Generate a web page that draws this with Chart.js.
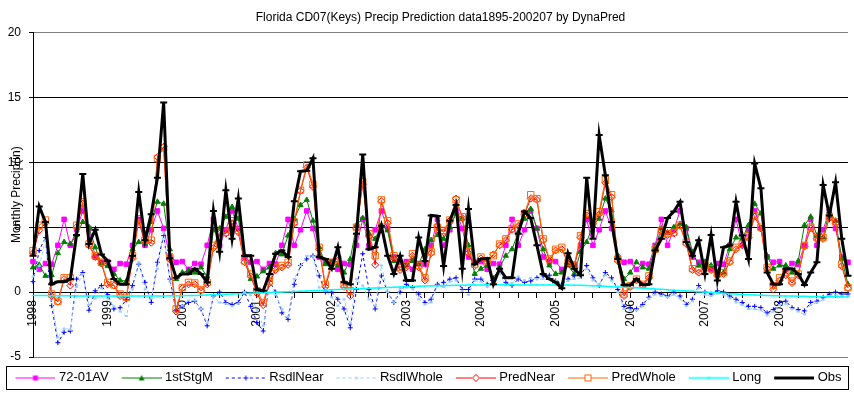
<!DOCTYPE html>
<html>
<head>
<meta charset="utf-8">
<title>Florida CD07(Keys) Precip Prediction</title>
<script src="https://cdn.jsdelivr.net/npm/chart.js@4.4.1/dist/chart.umd.min.js"></script>
<style>
  html, body { margin: 0; padding: 0; background: #ffffff; }
  #wrap { width: 854px; height: 394px; }
</style>
</head>
<body>
<div id="wrap"><canvas id="chart" width="854" height="394"></canvas></div>
<script>
// Ver.1 - Florida CD07 (Keys) monthly precip, 1998-01 .. 2008-12
const YEARS = ['1998', '1999', '2000', '2001', '2002', '2003', '2004', '2005', '2006', '2007', '2008'];
const SERIES_NAMES = ['72-01AV', '1stStgM', 'RsdlNear', 'RsdlWhole', 'PredNear', 'PredWhole', 'Long', 'Obs'];

// 72-01 average (one row per year)
const AV = [
  2.35, 1.75, 2.2, 2.15, 3.6, 5.6, 3.6, 4.8, 6.25, 4.9, 2.7, 2.3,
  2.35, 1.75, 2.2, 2.15, 3.6, 5.6, 3.6, 4.8, 6.25, 4.9, 2.7, 2.3,
  2.35, 1.75, 2.2, 2.15, 3.6, 5.6, 3.6, 4.8, 6.25, 4.9, 2.7, 2.3,
  2.35, 1.75, 2.2, 2.15, 3.6, 5.6, 3.6, 4.8, 6.25, 4.9, 2.7, 2.3,
  2.35, 1.75, 2.2, 2.15, 3.6, 5.6, 3.6, 4.8, 6.25, 4.9, 2.7, 2.3,
  2.35, 1.75, 2.2, 2.15, 3.6, 5.6, 3.6, 4.8, 6.25, 4.9, 2.7, 2.3,
  2.35, 1.75, 2.2, 2.15, 3.6, 5.6, 3.6, 4.8, 6.25, 4.9, 2.7, 2.3,
  2.35, 1.75, 2.2, 2.15, 3.6, 5.6, 3.6, 4.8, 6.25, 4.9, 2.7, 2.3,
  2.35, 1.75, 2.2, 2.15, 3.6, 5.6, 3.6, 4.8, 6.25, 4.9, 2.7, 2.3,
  2.35, 1.75, 2.2, 2.15, 3.6, 5.6, 3.6, 4.8, 6.25, 4.9, 2.7, 2.3,
  2.35, 1.75, 2.2, 2.15, 3.6, 5.6, 3.6, 4.8, 6.25, 4.9, 2.7, 2.3
];
const STG1 = [
  1.9, 2.1, 1.25, 1.3, 3.0, 3.85, 3.7, 4.4, 5.4, 5.0, 3.45, 2.15,
  2.0, 1.4, 0.9, 0.85, 3.3, 3.85, 3.7, 5.4, 6.95, 6.8, 3.3, 1.0,
  1.5, 1.65, 1.5, 1.9, 1.2, 4.75, 4.9, 5.8, 6.55, 5.65, 2.8, 1.0,
  1.2, 1.6, 1.9, 3.0, 2.9, 4.35, 5.65, 6.7, 7.1, 5.5, 3.45, 2.15,
  2.3, 2.05, 1.5, 2.55, 5.15, 5.7, 4.5, 4.1, 5.15, 4.75, 2.4, 2.55,
  2.05, 2.4, 2.15, 3.3, 4.0, 4.4, 4.1, 5.0, 6.05, 5.65, 3.6, 1.4,
  1.8, 2.05, 1.0, 1.9, 2.8, 3.3, 4.6, 5.65, 6.4, 4.9, 3.3, 2.05,
  1.4, 1.5, 2.05, 1.4, 3.1, 3.85, 5.15, 5.65, 7.2, 6.3, 2.8, 1.0,
  1.5, 2.3, 1.9, 1.8, 3.45, 4.9, 4.6, 5.0, 5.25, 5.0, 3.1, 2.05,
  2.3, 2.05, 1.5, 1.5, 3.3, 4.2, 4.1, 5.15, 6.8, 6.05, 2.8, 1.8,
  2.05, 2.05, 1.5, 2.4, 5.15, 5.8, 4.35, 4.2, 6.2, 5.5, 2.55, 0.6
];
const RSDL_NEAR = [
  0.8, 3.2, 4.2, -1.05, -3.9, -3.1, -3.0, 1.0, 1.5, -1.4, 0.1, 0.5,
  -0.2, -1.3, -1.2, -0.6, 0.5, 2.15, 0.75, -0.8, 2.3, 4.35, 1.0, -1.45,
  -1.1, -0.8, -0.7, -1.3, -2.6, -0.3, 0.0, -0.8, -0.95, -0.8, 0.0, -1.1,
  -2.35, -3.0, 0.85, 0.0, -1.6, -2.1, 0.6, 2.05, 2.55, 2.8, 1.25, 0.0,
  0.0, -0.55, -1.3, -2.75, 0.2, 2.95, 0.2, -1.3, 1.25, 0.0, -0.8, 0.0,
  0.6, 0.35, -0.15, -0.8, -0.55, 0.6, 0.75, 1.0, 1.1, 0.2, 0.2, 1.0,
  1.0, 0.6, 1.1, 1.8, 0.75, 0.5, 1.0, 0.75, 0.85, 1.1, 1.25, 1.3,
  0.85, 0.6, 1.0, 1.25, 1.3, 2.05, 1.1, 0.5, 1.5, 1.1, 0.2, -1.1,
  -1.2, -1.3, -0.95, -0.4, 0.0, -0.15, -0.3, 0.0, -0.3, -0.95, -0.55, 0.5,
  0.0, -0.15, 0.1, 0.0, -0.3, -0.55, -0.8, -1.1, -1.1, -1.2, -1.6, -1.35,
  -0.8, -0.7, -1.2, -1.35, -1.45, -0.8, -0.7, -0.4, -0.15, 0.0, -0.15, -0.15
];
const RSDL_WHOLE = [
  1.2, 2.0, 4.0, -0.6, -3.5, -2.8, -2.9, 0.4, 1.4, -1.0, -0.5, 0.3,
  -0.5, -1.1, -1.5, -1.85, 0.2, 2.3, 0.2, -0.5, 1.8, 4.6, 0.8, -1.2,
  -1.05, -0.65, -0.65, -1.3, -2.4, -0.4, -0.8, -0.9, -1.1, -0.9, 0.0, -0.25,
  -1.4, -2.6, 0.6, -0.2, -1.3, -1.9, 1.0, 2.0, 2.8, 2.75, 0.35, 0.1,
  -0.4, -1.05, -0.55, -2.35, 1.0, 0.5, -0.55, -1.05, 2.05, 0.0, -0.8, 0.25,
  0.35, 0.25, -0.55, -0.95, -0.8, 0.5, 0.4, 0.8, 0.9, 0.1, -0.2, 0.9,
  0.8, 0.4, 0.9, 1.4, 0.5, 0.7, 1.2, 0.9, 1.1, 1.0, 1.0, 1.1,
  0.9, 0.5, 0.9, 1.0, 1.1, 1.8, 0.9, 0.6, 1.3, 0.9, 0.0, -1.3,
  -1.4, -1.4, -1.1, -0.5, -0.2, -0.3, -0.4, -0.2, -0.5, -1.1, -0.7, 0.3,
  -0.2, -0.3, -0.1, -0.2, -0.5, -0.8, -1.0, -1.3, -1.3, -1.4, -1.8, -1.5,
  -1.0, -0.9, -1.3, -1.5, -1.7, -1.0, -0.8, -0.6, -0.3, -0.2, -0.3, -0.3
];
const PRED_NEAR = [
  3.0, 4.75, 5.3, -0.3, -0.75, 1.0, 0.5, 5.0, 6.8, 3.6, 2.7, 2.2,
  0.6, 0.5, -0.3, -0.5, 2.6, 5.5, 3.9, 3.8, 10.4, 11.2, 2.5, -1.5,
  0.3, 0.6, 0.6, 0.1, 0.6, 3.4, 4.5, 4.5, 5.3, 4.6, 2.3, 1.2,
  -0.1, -1.0, 0.7, 1.7, 1.9, 2.1, 5.3, 7.8, 9.6, 8.1, 3.3, 0.4,
  2.1, 2.4, 0.4, -0.3, 4.9, 8.3, 4.3, 2.1, 7.0, 5.3, 2.6, 1.7,
  1.9, 2.8, 1.9, 0.9, 3.0, 5.1, 4.6, 5.5, 7.2, 5.7, 3.0, 2.0,
  2.6, 2.3, 2.9, 3.6, 4.0, 4.8, 5.1, 6.0, 7.2, 7.1, 4.0, 2.4,
  3.2, 3.3, 2.2, 1.9, 4.2, 5.9, 5.3, 6.0, 8.4, 7.3, 2.4, -0.3,
  0.4, 0.9, 0.5, 1.1, 3.2, 4.7, 4.4, 4.5, 5.1, 3.7, 1.7, 1.5,
  1.9, 1.7, 1.3, 1.4, 2.3, 3.3, 3.6, 4.2, 5.8, 4.9, 1.8, 0.2,
  0.9, 1.3, 0.7, 1.3, 3.5, 4.9, 4.1, 4.1, 5.7, 5.3, 2.0, 0.3
];
const PRED_WHOLE = [
  3.2, 5.15, 5.55, -0.15, -0.7, 1.1, 1.1, 5.15, 6.95, 3.7, 2.8, 2.3,
  0.75, 0.55, -0.15, -0.4, 2.8, 5.65, 4.0, 4.0, 10.3, 11.1, 2.7, -1.3,
  0.35, 0.75, 0.7, 0.2, 0.75, 3.6, 4.6, 4.6, 5.5, 4.75, 2.4, 1.4,
  0.1, -0.8, 0.85, 1.9, 2.05, 2.3, 5.4, 7.85, 9.8, 8.3, 3.45, 0.6,
  2.3, 2.55, 0.6, 0.1, 5.0, 8.5, 4.5, 2.8, 7.1, 5.5, 2.8, 1.9,
  2.05, 2.95, 2.05, 1.1, 3.1, 5.0, 4.75, 5.55, 7.1, 5.8, 3.1, 2.15,
  2.7, 2.4, 2.8, 3.7, 4.1, 4.9, 5.25, 6.05, 7.5, 7.2, 4.1, 2.55,
  3.3, 3.45, 2.3, 2.05, 4.35, 6.05, 5.4, 6.2, 8.65, 7.5, 2.55, -0.15,
  0.5, 1.0, 0.6, 1.25, 3.3, 4.75, 4.5, 4.6, 5.15, 3.85, 1.8, 1.65,
  2.05, 1.8, 1.4, 1.5, 2.4, 3.45, 3.7, 4.35, 5.9, 5.0, 1.9, 0.5,
  1.1, 1.5, 0.85, 1.4, 3.6, 5.0, 4.2, 4.2, 5.8, 5.4, 2.15, 0.35
];
const LONG = [
  -0.26, -0.27, -0.27, -0.28, -0.28, -0.29, -0.29, -0.30, -0.30, -0.30, -0.31, -0.31,
  -0.31, -0.31, -0.31, -0.31, -0.31, -0.31, -0.30, -0.30, -0.30, -0.30, -0.29, -0.29,
  -0.28, -0.27, -0.26, -0.25, -0.23, -0.21, -0.19, -0.17, -0.15, -0.13, -0.11, -0.09,
  -0.07, -0.05, -0.03, -0.01, 0.01, 0.03, 0.05, 0.07, 0.09, 0.11, 0.13, 0.15,
  0.17, 0.19, 0.21, 0.23, 0.25, 0.27, 0.29, 0.31, 0.33, 0.35, 0.37, 0.39,
  0.41, 0.43, 0.45, 0.47, 0.48, 0.49, 0.50, 0.51, 0.52, 0.53, 0.54, 0.55,
  0.55, 0.56, 0.56, 0.56, 0.56, 0.56, 0.55, 0.55, 0.55, 0.55, 0.55, 0.55,
  0.55, 0.55, 0.54, 0.53, 0.52, 0.50, 0.48, 0.46, 0.44, 0.42, 0.40, 0.38,
  0.36, 0.33, 0.30, 0.27, 0.24, 0.21, 0.18, 0.15, 0.12, 0.09, 0.06, 0.03,
  0.00, -0.03, -0.06, -0.09, -0.12, -0.15, -0.18, -0.20, -0.22, -0.24, -0.26, -0.28,
  -0.29, -0.30, -0.31, -0.32, -0.33, -0.34, -0.35, -0.35, -0.36, -0.36, -0.37, -0.37
];
const OBS = [
  2.8, 6.6, 5.4, 0.6, 0.8, 0.8, 1.0, 4.4, 9.1, 3.7, 4.8, 2.9,
  2.4, 1.0, 0.6, 0.6, 2.8, 7.7, 4.0, 6.0, 8.8, 14.6, 2.6, 1.1,
  1.4, 1.4, 1.8, 1.4, 0.75, 6.25, 3.1, 7.85, 4.1, 7.2, 2.8, 2.8,
  0.2, 0.1, 1.4, 2.95, 3.2, 2.7, 7.0, 9.3, 9.35, 10.3, 2.7, 2.55,
  1.8, 3.45, 0.75, 0.6, 4.5, 10.6, 3.3, 3.45, 5.1, 2.8, 1.4, 2.8,
  0.9, 0.9, 4.2, 2.4, 5.9, 5.85, 2.0, 5.5, 6.7, 1.8, 6.4, 2.15,
  2.55, 2.6, 0.6, 1.8, 1.1, 1.1, 4.5, 6.2, 5.7, 3.6, 1.4, 1.0,
  0.75, 0.3, 3.0, 1.8, 1.3, 8.8, 4.1, 12.1, 9.0, 5.4, 2.55, 0.55,
  0.55, 1.0, 0.55, 0.6, 3.2, 4.1, 5.7, 6.2, 6.95, 3.85, 2.8, 4.0,
  1.4, 4.4, 0.9, 3.45, 3.6, 6.95, 4.35, 2.55, 9.9, 8.0, 1.5, 0.6,
  0.6, 1.8, 1.8, 1.4, 0.55, 1.5, 2.3, 8.25, 5.9, 8.45, 4.1, 1.25
];

const Y_MIN = -5, Y_MAX = 20, Y_STEP = 5;

// month labels, one per data point
const MONTH_LABELS = [];
YEARS.forEach(y => {
    for (let m = 1; m <= 12; m++) MONTH_LABELS.push(y + '-' + (m < 10 ? '0' + m : m));
});

// small legend samples: line plus marker
function legendIcon(color, lineWidth, dash, marker) {
    const c = document.createElement('canvas');
    c.width = 46; c.height = 12;
    const g = c.getContext('2d');
    g.strokeStyle = color; g.lineWidth = lineWidth;
    g.setLineDash(dash);
    g.beginPath(); g.moveTo(6, 6.5); g.lineTo(46, 6.5); g.stroke();
    g.setLineDash([]);
    g.lineWidth = 1;
    const x = 26, y = 6.5;
    if (marker === 'square') {
        g.fillStyle = color; g.fillRect(x - 2.5, y - 2.5, 5, 5);
    } else if (marker === 'triangle') {
        g.fillStyle = color; g.beginPath();
        g.moveTo(x, y - 3); g.lineTo(x + 3, y + 2.5); g.lineTo(x - 3, y + 2.5); g.closePath(); g.fill();
    } else if (marker === 'cross') {
        g.beginPath(); g.moveTo(x - 2.5, y); g.lineTo(x + 2.5, y); g.moveTo(x, y - 2.5); g.lineTo(x, y + 2.5); g.stroke();
    } else if (marker === 'dot') {
        g.fillStyle = color; g.fillRect(x - 1.5, y - 1, 3, 2);
    } else if (marker === 'diamond') {
        g.fillStyle = '#fff'; g.beginPath();
        g.moveTo(x, y - 3.5); g.lineTo(x + 3.5, y); g.lineTo(x, y + 3.5); g.lineTo(x - 3.5, y); g.closePath();
        g.fill(); g.stroke();
    } else if (marker === 'box') {
        g.fillStyle = '#fff'; g.fillRect(x - 3, y - 3, 6, 6); g.strokeRect(x - 3, y - 3, 6, 6);
    }
    return c;
}

const ICONS = [
    legendIcon('#ff00ff', 1, [], 'square'),
    legendIcon('#008000', 1, [], 'triangle'),
    legendIcon('#0000ff', 1, [3, 3], 'cross'),
    legendIcon('#99ccff', 1, [3, 3], 'dot'),
    legendIcon('#ff0000', 1, [], 'diamond'),
    legendIcon('#ff6600', 1, [], 'box'),
    legendIcon('#00ffff', 1.5, [], 'dot'),
    legendIcon('#000000', 3, [], 'none')
];

function series(idx, data, color, width, dash, style, radius, fill, pbw) {
    return {
        label: SERIES_NAMES[idx],
        data: data,
        borderColor: color,
        backgroundColor: color,
        borderWidth: width,
        borderDash: dash,
        pointStyle: style,
        pointRadius: radius,
        pointHoverRadius: radius,
        pointBackgroundColor: fill,
        pointBorderColor: color,
        pointBorderWidth: pbw,
        fill: false,
        tension: 0,
        order: 8 - idx
    };
}

Chart.defaults.font.family = "'Liberation Sans', Arial, sans-serif";
Chart.defaults.color = '#000000';

const framePlugin = {
    id: 'frame',
    afterLayout(chart) {
        // push legend row down a little
        chart.legend.top += 4;
        chart.legend.bottom += 4;
    },
    afterDraw(chart) {
        const ctx = chart.ctx;
        ctx.save();
        ctx.strokeStyle = '#000000';
        ctx.lineWidth = 1;
        ctx.strokeRect(6.5, 366.5, 842, 23);
        ctx.restore();
    }
};

new Chart(document.getElementById('chart'), {
    type: 'line',
    data: {
        labels: MONTH_LABELS,
        datasets: [
            series(0, AV, '#ff00ff', 1, [], 'rect', 3.2, '#ff00ff', 1),
            series(1, STG1, '#008000', 1, [], 'triangle', 3, '#008000', 1),
            series(2, RSDL_NEAR, '#0000ff', 1, [3, 3], 'cross', 2.5, '#0000ff', 1),
            series(3, RSDL_WHOLE, '#99ccff', 1, [3, 3], 'line', 1.5, '#99ccff', 2),
            series(4, PRED_NEAR, '#ff0000', 1, [], 'rectRot', 3.5, 'rgba(255,255,255,0)', 1),
            series(5, PRED_WHOLE, '#ff6600', 1, [], 'rect', 4.5, 'rgba(255,255,255,0)', 1),
            series(6, LONG, '#00ffff', 1.5, [], 'line', 1.2, '#00ffff', 1),
            series(7, OBS, '#000000', 3, [], 'line', 3.5, '#000000', 2)
        ]
    },
    options: {
        responsive: false,
        animation: false,
        devicePixelRatio: 1,
        layout: { padding: { left: 0, right: 0, top: 0, bottom: 4 } },
        plugins: {
            title: {
                display: true,
                fullSize: false,
                text: 'Florida CD07(Keys) Precip Prediction data1895-200207 by DynaPred',
                color: '#000000',
                font: { size: 12, weight: 'normal' },
                padding: { top: 10, bottom: 8 }
            },
            legend: {
                position: 'bottom',
                labels: {
                    usePointStyle: true,
                    pointStyleWidth: 40,
                    padding: 10,
                    color: '#000000',
                    font: { size: 13 },
                    sort: (a, b) => a.datasetIndex - b.datasetIndex,
                    generateLabels(chart) {
                        const items = Chart.defaults.plugins.legend.labels.generateLabels(chart);
                        items.forEach(it => { it.pointStyle = ICONS[it.datasetIndex]; it.lineWidth = 0; });
                        return items;
                    }
                }
            },
            tooltip: { enabled: false }
        },
        scales: {
            x: {
                type: 'category',
                position: { y: 0 },
                offset: false,
                afterFit: s => { s.paddingLeft = 0; s.paddingRight = 0; },
                border: { display: true, color: '#000000', width: 1 },
                grid: {
                    drawOnChartArea: false,
                    drawTicks: true,
                    tickLength: 5,
                    tickColor: c => (c.index % 3 === 0 ? '#000000' : 'rgba(0,0,0,0)')
                },
                ticks: {
                    autoSkip: false,
                    maxRotation: 90,
                    minRotation: 90,
                    padding: 3,
                    color: '#000000',
                    font: { size: 12 },
                    callback: (v, i) => (i % 12 === 0 ? YEARS[i / 12] : '')
                }
            },
            y: {
                min: Y_MIN,
                max: Y_MAX,
                afterFit: s => { s.width = 33; },
                border: { display: true, color: '#000000', width: 1 },
                grid: {
                    color: c => (c.tick && (c.tick.value === Y_MAX || c.tick.value === Y_MIN) ? '#808080' : '#000000'),
                    tickColor: '#000000',
                    tickLength: 4,
                    lineWidth: 1
                },
                ticks: {
                    stepSize: Y_STEP,
                    padding: 8,
                    color: '#000000',
                    font: { size: 12 }
                },
                title: {
                    display: true,
                    text: 'Monthly Precip(in)',
                    color: '#000000',
                    font: { size: 12 },
                    padding: { top: 9, bottom: 0 }
                }
            },
            y2: {
                position: 'right',
                display: true,
                afterFit: s => { s.width = 6; },
                border: { display: false },
                grid: { display: false, drawTicks: false },
                ticks: { display: false }
            }
        }
    },
    plugins: [framePlugin]
});
</script>
</body>
</html>
